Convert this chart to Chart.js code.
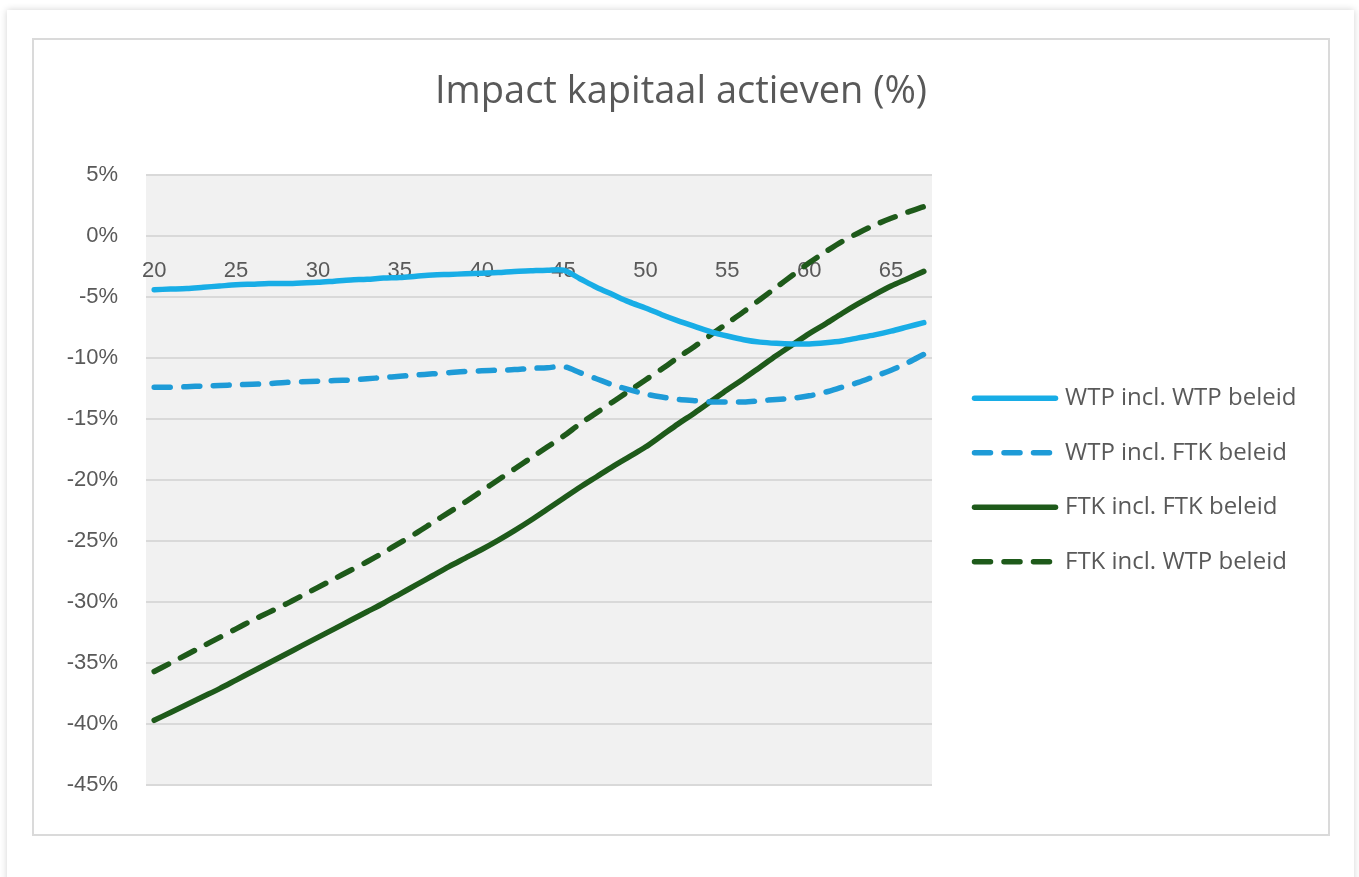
<!DOCTYPE html>
<html>
<head>
<meta charset="utf-8">
<script src="https://cdn.jsdelivr.net/npm/chart.js@4.4.1/dist/chart.umd.min.js"></script>
<style>
  html, body { margin: 0; padding: 0; background: #ffffff; width: 1359px; height: 877px; overflow: hidden; }
  #card { position: absolute; left: 7px; top: 10px; width: 1347px; height: 1000px; background: #fff; box-shadow: 0 0 7px rgba(0,0,0,0.18); }
  #frame { position: absolute; left: 32px; top: 38px; width: 1298px; height: 798px; box-sizing: border-box; border: 2px solid #dadada; }
  #c { position: absolute; left: 34px; top: 40px; }
</style>
</head>
<body>
<div id="card"></div>
<div id="frame"></div>
<canvas id="c" width="1294" height="794"></canvas>
<script>
const title = 'Impact kapitaal actieven (%)';
const ages = [20,21,22,23,24,25,26,27,28,29,30,31,32,33,34,35,36,37,38,39,40,41,42,43,44,45,46,47,48,49,50,51,52,53,54,55,56,57,58,59,60,61,62,63,64,65,66,67];
const xTickLabels = [20,25,30,35,40,45,50,55,60,65];
const yTicks = { min: -45, max: 5, step: 5 };
const seriesNames = ['WTP incl. WTP beleid', 'WTP incl. FTK beleid', 'FTK incl. FTK beleid', 'FTK incl. WTP beleid'];
const wtpWtp = [-4.4,-4.35,-4.3,-4.2,-4.1,-4.0,-3.95,-3.9,-3.9,-3.85,
                -3.8,-3.7,-3.6,-3.55,-3.45,-3.4,-3.3,-3.2,-3.15,-3.1,
                -3.05,-3.0,-2.9,-2.85,-2.8,-2.8,-3.5,-4.2,-4.8,-5.4,
                -5.9,-6.45,-6.95,-7.4,-7.85,-8.2,-8.5,-8.7,-8.8,-8.85,
                -8.85,-8.75,-8.6,-8.35,-8.1,-7.8,-7.45,-7.1];
const wtpFtk = [-12.4,-12.4,-12.35,-12.3,-12.25,-12.2,-12.15,-12.1,-12.0,-11.95,
                -11.9,-11.85,-11.8,-11.7,-11.6,-11.5,-11.4,-11.3,-11.2,-11.1,
                -11.05,-11.0,-10.95,-10.85,-10.8,-10.7,-11.2,-11.7,-12.2,-12.6,
                -12.95,-13.2,-13.4,-13.5,-13.6,-13.6,-13.6,-13.5,-13.4,-13.3,
                -13.1,-12.8,-12.4,-12.0,-11.5,-11.0,-10.4,-9.7];
const ftkFtk = [-39.7,-39.05,-38.4,-37.75,-37.1,-36.4,-35.7,-35.0,-34.3,-33.6,
                -32.9,-32.2,-31.5,-30.8,-30.1,-29.35,-28.6,-27.85,-27.1,-26.4,
                -25.7,-24.95,-24.15,-23.3,-22.4,-21.5,-20.6,-19.75,-18.9,-18.1,
                -17.3,-16.35,-15.4,-14.5,-13.55,-12.6,-11.7,-10.75,-9.8,-8.9,
                -8.0,-7.2,-6.35,-5.55,-4.8,-4.1,-3.5,-2.9];
const ftkWtp = [-35.7,-35.0,-34.3,-33.6,-32.9,-32.2,-31.5,-30.85,-30.2,-29.5,
                -28.8,-28.1,-27.4,-26.7,-25.95,-25.15,-24.35,-23.5,-22.65,-21.8,
                -20.9,-20.0,-19.1,-18.2,-17.3,-16.4,-15.4,-14.5,-13.6,-12.7,
                -11.8,-10.9,-9.95,-9.05,-8.1,-7.15,-6.2,-5.2,-4.2,-3.2,
                -2.2,-1.3,-0.45,0.25,0.9,1.45,1.95,2.4];

const textGrey = '#595959';
const plotBg = {
  id: 'plotBg',
  beforeDraw(chart) {
    const { ctx, chartArea: a } = chart;
    ctx.save();
    ctx.fillStyle = '#f1f1f1';
    ctx.fillRect(a.left, a.top, a.right - a.left, a.bottom - a.top);
    ctx.restore();
  }
};

// legend at the right, built from the datasets (label, colour, dash, width)
const sideLegend = {
  id: 'sideLegend',
  afterDraw(chart, args, o) {
    const { ctx, chartArea: a } = chart;
    const sets = chart.data.datasets;
    let y = (a.top + a.bottom) / 2 - (sets.length - 1) * o.spacing / 2 + o.shiftY;
    const x0 = a.right + o.gap;
    ctx.save();
    ctx.font = o.font;
    ctx.textBaseline = 'middle';
    ctx.textAlign = 'left';
    sets.forEach(d => {
      ctx.strokeStyle = d.borderColor;
      ctx.lineWidth = d.borderWidth;
      ctx.lineCap = 'round';
      ctx.setLineDash(d.borderDash || []);
      ctx.beginPath();
      ctx.moveTo(x0, y);
      ctx.lineTo(x0 + o.lineLength, y);
      ctx.stroke();
      ctx.setLineDash([]);
      ctx.fillStyle = o.color;
      ctx.fillText(d.label, x0 + o.lineLength + o.textGap, y);
      y += o.spacing;
    });
    ctx.restore();
  }
};

function ds(label, data, color, dashed) {
  return {
    label, data,
    borderColor: color, backgroundColor: color,
    borderWidth: 5.5, borderDash: dashed ? [16, 13.5] : [],
    borderCapStyle: 'round', borderJoinStyle: 'round',
    pointRadius: 0, pointHoverRadius: 0, tension: 0.3, fill: false
  };
}

new Chart(document.getElementById('c'), {
  type: 'line',
  data: {
    labels: ages,
    datasets: [
      ds(seriesNames[0], wtpWtp, '#18ade6', false),
      ds(seriesNames[1], wtpFtk, '#1e9bd7', true),
      ds(seriesNames[2], ftkFtk, '#1e5a1a', false),
      ds(seriesNames[3], ftkWtp, '#1e5a1a', true)
    ]
  },
  options: {
    responsive: false,
    animation: false,
    events: [],
    layout: { padding: { left: 0, right: 0, top: 0, bottom: 49 } },
    plugins: {
      title: {
        display: true, text: title, color: textGrey,
        font: { family: 'Open Sans', size: 38, weight: 'normal' },
        padding: { top: 29, bottom: 60.4 }
      },
      legend: { display: false },
      tooltip: { enabled: false },
      sideLegend: {
        gap: 42.5, lineLength: 81, textGap: 9.5, spacing: 54.5, shiftY: 0,
        font: '24px "Open Sans"', color: textGrey
      }
    },
    scales: {
      x: {
        type: 'category',
        position: { y: 0 },
        offset: true,
        grid: { display: false, drawTicks: false },
        border: { display: false },
        ticks: {
          autoSkip: false, maxRotation: 0, minRotation: 0,
          padding: 22, color: textGrey,
          font: { family: 'Liberation Sans', size: 22 },
          callback: (v, i) => xTickLabels.includes(ages[i]) ? String(ages[i]) : ''
        }
      },
      y: {
        min: yTicks.min, max: yTicks.max,
        grid: { color: '#d9d9d9', lineWidth: 2, drawTicks: false },
        border: { display: false },
        ticks: {
          stepSize: yTicks.step, padding: 28, color: textGrey,
          font: { family: 'Liberation Sans', size: 22 },
          callback: v => v + '%'
        },
        afterFit(scale) { scale.width = 112; }
      },
      // empty right-hand box that reserves room for the legend
      legendSpace: {
        axis: 'y', type: 'linear', position: 'right', display: true,
        grid: { display: false, drawTicks: false },
        border: { display: false },
        ticks: { display: false },
        afterFit(scale) { scale.width = 396; }
      }
    }
  },
  plugins: [plotBg, sideLegend]
});
</script>
</body>
</html>
